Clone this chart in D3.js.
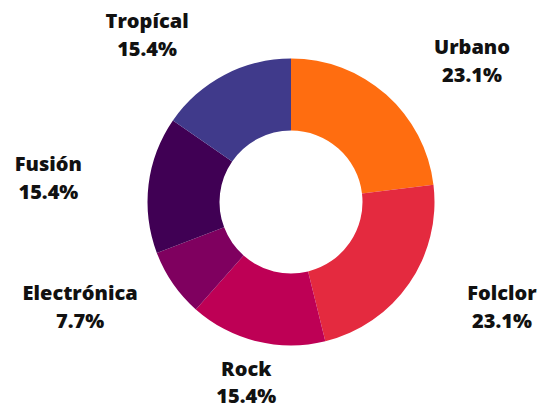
<!DOCTYPE html>
<html>
<head>
<meta charset="utf-8">
<script src="https://cdn.jsdelivr.net/npm/d3@7"></script>
<style>
  html, body { margin: 0; padding: 0; background: #fff; }
  svg { display: block; }
  text { font-family: "Open Sans", sans-serif; font-weight: 800; fill: #111; }
</style>
</head>
<body>
<svg id="chart" width="549" height="408"></svg>
<script>
// Genre shares
const genres = ["Urbano", "Folclor", "Rock", "Electrónica", "Fusión", "Tropícal"];
const counts = [3, 3, 2, 1, 2, 2];
const colors = ["#FF6D10", "#E42A3F", "#BE0055", "#7F005F", "#400054", "#403A8B"];

const width = 549, height = 408;
const cx = 291, cy = 202;
const outerR = 143.5, innerR = 71.5;
const labelR = 187, labelShift = 57;

const svg = d3.select("#chart");
const g = svg.append("g").attr("transform", `translate(${cx},${cy})`);

const data = genres.map((name, i) => ({ name, value: counts[i], color: colors[i] }));
const total = d3.sum(counts);

const pie = d3.pie().value(d => d.value).sort(null);
const arc = d3.arc().innerRadius(innerR).outerRadius(outerR);
const arcs = pie(data);

g.selectAll("path.slice")
  .data(arcs)
  .join("path")
  .attr("class", "slice")
  .attr("d", arc)
  .attr("fill", d => d.data.color);

const fmt = v => (v / total * 100).toFixed(1) + "%";

const labels = g.selectAll("g.label")
  .data(arcs)
  .join("g")
  .attr("class", "label")
  .attr("transform", d => {
    const a = (d.startAngle + d.endAngle) / 2;
    const s = Math.sin(a), c = Math.cos(a);
    const x = labelR * s + (Math.abs(s) > 0.3 ? Math.sign(s) * labelShift : 0);
    const y = -labelR * c;
    return `translate(${x},${y})`;
  });

labels.append("text")
  .attr("text-anchor", "middle")
  .attr("y", -8)
  .style("font-size", "20px")
  .text(d => d.data.name);

labels.append("text")
  .attr("text-anchor", "middle")
  .attr("y", 19.5)
  .style("font-size", "20px")
  .text(d => fmt(d.data.value));
</script>
</body>
</html>
